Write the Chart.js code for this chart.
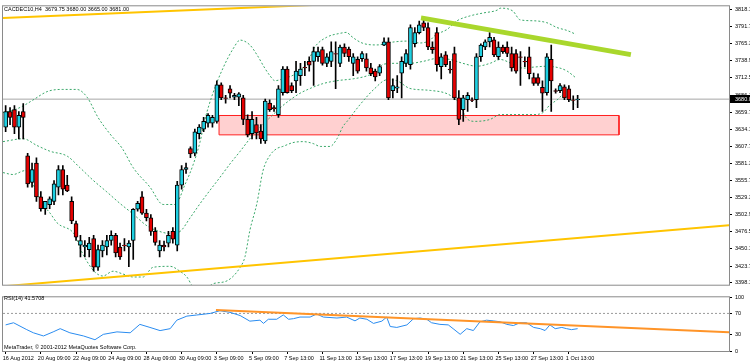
<!DOCTYPE html>
<html>
<head>
<meta charset="utf-8">
<script src="https://cdn.jsdelivr.net/npm/chart.js@4.4.1/dist/chart.umd.min.js"></script>
<style>
  html, body { margin: 0; padding: 0; background: #fff; }
  #wrap { position: relative; width: 750px; height: 364px; overflow: hidden; }
  #main { position: absolute; left: 0; top: 0; }
  #rsi { position: absolute; left: 0; top: 291px; }
</style>
</head>
<body>
<div id="wrap">
  <canvas id="main" width="750" height="291"></canvas>
  <canvas id="rsi" width="750" height="73"></canvas>
</div>
<script>
// H4 candles, one entry per bar (bar 0 = 16 Aug 2012)
const opens = [
  3637, 3661, 3664, 3637, 3661, 3593, 3552, 3582, 3530, 3512,
  3518, 3523, 3545, 3572, 3548, 3523, 3489, 3456, 3453, 3449,
  3466, 3422, 3447, 3453, 3463, 3471, 3453, 3456, 3453, 3463,
  3511, 3530, 3505, 3498, 3477, 3447, 3456, 3459, 3477, 3456,
  3548, 3572, 3604, 3597, 3627, 3634, 3643, 3643, 3646, 3702,
  3682, 3696, 3683, 3683, 3682, 3649, 3627, 3641, 3631, 3616,
  3674, 3667, 3656, 3690, 3726, 3701, 3708, 3716, 3729, 3738,
  3738, 3745, 3756, 3735, 3738, 3750, 3735, 3760, 3757, 3735,
  3741, 3742, 3742, 3728, 3723, 3720, 3763, 3768, 3693, 3697,
  3720, 3735, 3733, 3765, 3782, 3797, 3790, 3760, 3782, 3730,
  3748, 3726, 3750, 3682, 3664, 3679, 3679, 3679, 3745, 3760,
  3768, 3771, 3745, 3760, 3760, 3750, 3750, 3745, 3738, 3745,
  3713, 3713, 3698, 3690, 3741, 3693, 3693, 3699, 3696, 3679,
  3679
];
const highs = [
  3670, 3667, 3670, 3661, 3673, 3597, 3582, 3590, 3538, 3523,
  3530, 3555, 3578, 3578, 3563, 3530, 3493, 3471, 3463, 3468,
  3471, 3456, 3463, 3471, 3478, 3474, 3459, 3466, 3463, 3512,
  3523, 3538, 3511, 3503, 3483, 3463, 3462, 3477, 3483, 3554,
  3578, 3582, 3607, 3634, 3641, 3652, 3658, 3655, 3708, 3705,
  3686, 3701, 3689, 3690, 3686, 3656, 3661, 3652, 3641, 3680,
  3679, 3670, 3701, 3730, 3730, 3705, 3738, 3735, 3738, 3745,
  3760, 3760, 3760, 3750, 3768, 3768, 3763, 3765, 3760, 3750,
  3745, 3753, 3750, 3735, 3726, 3733, 3774, 3774, 3711, 3716,
  3745, 3756, 3794, 3790, 3800, 3805, 3797, 3768, 3790, 3750,
  3753, 3738, 3760, 3693, 3686, 3690, 3682, 3750, 3765, 3771,
  3782, 3775, 3768, 3763, 3768, 3760, 3756, 3753, 3745, 3760,
  3720, 3719, 3708, 3750, 3763, 3696, 3704, 3702, 3701, 3685,
  3686
];
const lows = [
  3630, 3641, 3627, 3619, 3619, 3545, 3545, 3523, 3508, 3503,
  3512, 3518, 3533, 3533, 3538, 3489, 3463, 3438, 3438, 3438,
  3416, 3417, 3438, 3441, 3456, 3438, 3434, 3447, 3423, 3434,
  3508, 3503, 3493, 3471, 3456, 3438, 3447, 3453, 3459, 3447,
  3542, 3566, 3590, 3593, 3619, 3630, 3637, 3637, 3643, 3679,
  3674, 3682, 3679, 3670, 3641, 3622, 3619, 3619, 3612, 3612,
  3661, 3661, 3652, 3686, 3689, 3690, 3690, 3701, 3716, 3723,
  3701, 3738, 3732, 3730, 3730, 3696, 3730, 3745, 3738, 3716,
  3720, 3738, 3723, 3716, 3708, 3716, 3762, 3679, 3682, 3690,
  3682, 3730, 3726, 3760, 3780, 3785, 3756, 3750, 3723, 3711,
  3730, 3720, 3679, 3641, 3646, 3661, 3676, 3667, 3738, 3756,
  3760, 3745, 3741, 3750, 3745, 3723, 3720, 3701, 3730, 3711,
  3701, 3701, 3661, 3686, 3661, 3689, 3690, 3679, 3676, 3664,
  3667
];
const closes = [
  3661, 3652, 3637, 3655, 3652, 3550, 3572, 3530, 3512, 3523,
  3527, 3550, 3572, 3542, 3539, 3493, 3468, 3463, 3456, 3459,
  3422, 3449, 3456, 3463, 3471, 3444, 3438, 3455, 3459, 3511,
  3520, 3505, 3498, 3477, 3460, 3456, 3453, 3471, 3465, 3548,
  3572, 3575, 3596, 3630, 3637, 3646, 3655, 3652, 3702, 3682,
  3681, 3689, 3686, 3688, 3649, 3625, 3649, 3628, 3619, 3677,
  3664, 3665, 3696, 3726, 3690, 3693, 3723, 3726, 3728, 3732,
  3753, 3753, 3735, 3745, 3753, 3749, 3760, 3750, 3745, 3745,
  3723, 3750, 3728, 3719, 3714, 3730, 3768, 3682, 3701, 3699,
  3738, 3750, 3790, 3782, 3794, 3790, 3760, 3756, 3733, 3745,
  3733, 3725, 3682, 3649, 3682, 3686, 3678, 3745, 3763, 3768,
  3775, 3748, 3760, 3753, 3750, 3728, 3723, 3744, 3737, 3719,
  3704, 3704, 3689, 3745, 3708, 3692, 3701, 3682, 3679, 3678,
  3680
];

// Bollinger bands: [bar, price]
const upperBand = [
  [-0.6, 3659.3], [2.1, 3663.8], [4.4, 3671.2], [6.2, 3678.6], [9.6, 3692.0], [13.0, 3694.9],
  [16.2, 3694.9], [18.5, 3683.1], [21.0, 3651.9], [23.7, 3626.7], [26.5, 3604.4], [29.0, 3574.7],
  [32.8, 3545.0], [35.8, 3518.3], [38.5, 3518.3], [40.8, 3549.5], [42.6, 3579.2], [44.2, 3614.8],
  [45.3, 3648.9], [47.1, 3689.0], [49.4, 3727.6], [51.7, 3757.3], [53.3, 3770.6], [55.5, 3763.2],
  [57.1, 3748.3], [58.9, 3727.6], [60.1, 3715.7], [61.2, 3708.3], [63.0, 3711.2], [66.2, 3720.2],
  [68.7, 3738.0], [70.3, 3760.2], [73.0, 3775.1], [76.0, 3781.0], [77.6, 3782.5], [78.3, 3778.0],
  [81.0, 3766.2], [84.4, 3763.2], [88.0, 3767.6], [91.2, 3769.1], [94.2, 3766.2], [96.5, 3770.6],
  [97.6, 3778.0], [100.3, 3786.9], [102.6, 3800.3], [105.5, 3807.7], [108.5, 3812.2], [111.7, 3816.6],
  [112.4, 3819.6], [115.3, 3815.1], [116.9, 3801.8], [119.9, 3800.3], [123.0, 3797.3], [125.3, 3789.9],
  [127.6, 3785.4], [129.6, 3779.5]
];
const middleBand = [
  [-0.6, 3614.8], [4.0, 3619.2], [7.1, 3608.9], [10.1, 3600.0], [14.0, 3592.5], [16.9, 3574.7],
  [19.9, 3555.4], [23.0, 3537.6], [26.0, 3519.8], [29.0, 3503.5], [32.1, 3485.7], [34.4, 3478.3],
  [37.4, 3473.8], [39.6, 3476.8], [41.9, 3497.6], [44.2, 3519.8], [46.5, 3540.6], [48.7, 3559.9],
  [51.0, 3580.7], [53.3, 3600.0], [55.5, 3619.2], [57.8, 3637.0], [60.1, 3651.9], [62.4, 3666.7],
  [64.6, 3678.6], [66.9, 3689.0], [69.2, 3696.4], [72.1, 3703.8], [75.3, 3708.3], [79.0, 3711.2],
  [82.1, 3715.7], [84.4, 3723.1], [85.8, 3733.5], [88.9, 3735.0], [91.9, 3735.0], [94.9, 3738.0],
  [98.0, 3742.4], [101.0, 3740.9], [103.9, 3735.0], [107.1, 3730.5], [110.1, 3735.0], [112.4, 3740.9],
  [115.3, 3733.5], [117.6, 3727.6], [119.9, 3729.1], [123.0, 3730.5], [126.0, 3727.6], [127.6, 3723.1],
  [129.6, 3712.7]
];
const lowerBand = [
  [-0.6, 3567.3], [1.7, 3564.3], [4.4, 3570.3], [6.2, 3549.5], [8.5, 3518.3], [10.1, 3505.0],
  [11.7, 3490.1], [15.8, 3470.8], [16.9, 3451.5], [18.5, 3430.8], [20.3, 3414.5], [22.1, 3408.5],
  [24.4, 3415.9], [26.7, 3411.5], [29.0, 3407.0], [31.2, 3407.0], [33.5, 3421.9], [37.4, 3423.4],
  [39.6, 3415.9], [41.2, 3407.0], [42.4, 3393.7], [44.6, 3384.8], [47.1, 3396.6], [50.3, 3401.1],
  [53.3, 3421.9], [54.4, 3438.2], [55.5, 3478.3], [57.1, 3519.8], [58.5, 3570.3], [60.1, 3594.0],
  [61.7, 3604.4], [63.0, 3607.4], [65.3, 3613.3], [67.6, 3614.8], [69.9, 3611.8], [71.5, 3607.4],
  [73.7, 3607.4], [75.3, 3619.2], [76.7, 3638.5], [77.6, 3645.9], [80.5, 3671.2], [83.9, 3696.4],
  [86.7, 3709.8], [88.9, 3708.3], [91.9, 3696.4], [96.5, 3693.4], [101.0, 3686.0], [103.3, 3671.2],
  [104.6, 3651.9], [106.7, 3645.9], [110.1, 3648.9], [112.4, 3656.3], [115.3, 3656.3], [119.9, 3656.3],
  [122.1, 3659.3], [123.7, 3671.2], [125.3, 3678.6], [126.7, 3686.0], [128.3, 3678.6], [129.6, 3671.2]
];

// drawn objects: [bar, price]
const topChannel = [[-0.6, 3804.7], [78.3, 3826.9]];
const bottomChannel = [[-0.6, 3392.7], [164.4, 3486.4]];
const resistance = [[94.4, 3804.7], [142.1, 3748.3]];
const zoneBars = [48.5, 139.4];
const zonePrices = [3625.2, 3654.9];
const bidPrice = 3680.0;

// RSI(14): [bar, value]
const rsiLine = [
  [0, 48.6], [1.8, 52.6], [4.8, 39.8], [6.3, 33.9], [8.6, 28.0], [10.8, 35.6], [12.4, 41.6],
  [14.6, 33.9], [17.7, 28.0], [20.3, 21.0], [22.2, 31.0], [25.3, 35.6], [28.3, 33.9], [30.5, 49.6],
  [32.8, 43.9], [35.1, 38.0], [37.4, 41.6], [38.9, 57.4], [41.2, 65.0], [43.4, 67.0], [46.5, 70.0],
  [48.7, 75.0], [51.0, 72.0], [53.3, 66.0], [55.5, 55.6], [57.8, 57.4], [58.6, 51.4], [59.7, 59.1],
  [61.6, 59.1], [63.1, 67.2], [64.3, 59.1], [65.4, 60.2], [66.9, 63.2], [69.2, 63.2], [70.7, 68.9],
  [72.2, 63.2], [75.3, 61.4], [77.5, 63.2], [79.4, 56.1], [80.5, 61.4], [82.1, 59.1], [83.6, 51.4],
  [85.5, 55.6], [86.6, 63.2], [87.4, 45.6], [88.9, 43.9], [91.2, 48.6], [92.7, 60.2], [94.2, 61.4],
  [95.7, 59.1], [96.8, 52.6], [98.7, 49.6], [100.6, 48.6], [101.7, 41.6], [103.3, 31.1], [104.8, 41.6],
  [106.3, 38.1], [107.8, 54.4], [109.3, 57.4], [110.8, 56.1], [112.4, 54.4], [113.9, 49.6], [115.4, 47.4],
  [116.9, 52.6], [118.4, 52.6], [120.0, 43.9], [121.5, 41.6], [122.6, 38.1], [123.7, 48.6], [124.9, 41.6],
  [126.4, 43.9], [127.5, 41.6], [128.6, 39.8], [130, 41.57]
];
const rsiTrend = [[47.8, 76.3], [164.4, 35.1]];
const rsiLevel = 70;

// axis labels
const priceTicks = [3398.10, 3423.70, 3450.10, 3476.50, 3502.90, 3529.30, 3555.70, 3581.30, 3607.70,
  3634.10, 3659.70, 3686.10, 3712.50, 3738.90, 3765.30, 3791.70, 3818.10];
const rsiTicks = [0, 30, 70, 100];
const dateTickBars = [0, 8, 16, 24, 32, 40, 48, 56, 64, 72, 80, 88, 96, 104, 112, 120, 128];
const dateLabels = ['16 Aug 2012', '20 Aug 09:00', '22 Aug 09:00', '24 Aug 09:00', '28 Aug 09:00',
  '30 Aug 09:00', '3 Sep 09:00', '5 Sep 09:00', '7 Sep 13:00', '11 Sep 13:00', '13 Sep 13:00',
  '17 Sep 13:00', '19 Sep 13:00', '21 Sep 13:00', '25 Sep 13:00', '27 Sep 13:00', '1 Oct 13:00'];
const titleText = 'CACDEC10,H4  3679.75 3680.00 3665.00 3681.00';
const rsiTitle = 'RSI(14) 41.5708';
const copyright = 'MetaTrader, \u00a9 2001-2012 MetaQuotes Software Corp.';

const FONT = { family: '"Liberation Sans", Arial, sans-serif', size: 5.5 };
const bull = '#1fd0e2', bear = '#e60000';
const xMin = -0.6, xMax = 164.4;

const pts = arr => arr.map(p => ({ x: p[0], y: p[1] }));

// frame + texts drawn on top of each panel
function panelDecor(texts, bid) {
  return {
    id: 'panelDecor',
    afterDraw(chart) {
      const { ctx, chartArea: a } = chart;
      ctx.save();
      ctx.strokeStyle = '#8a8a8a';
      ctx.lineWidth = 1;
      ctx.strokeRect(a.left - 0.5, a.top - 0.5, a.right - a.left + 1, a.bottom - a.top + 1);
      ctx.font = FONT.size + 'px ' + FONT.family;
      ctx.fillStyle = '#000';
      ctx.textBaseline = 'middle';
      texts.forEach(t => ctx.fillText(t[0], t[1], t[2]));
      if (bid !== undefined) {
        const y = Math.round(chart.scales.y.getPixelForValue(bid));
        ctx.fillStyle = '#000';
        ctx.fillRect(a.right + 1, y - 4, 30, 8);
        ctx.fillStyle = '#fff';
        ctx.fillText(bid.toFixed(2), a.right + 6, y);
      }
      ctx.restore();
    }
  };
}

const bodies = opens.map((o, i) => ({ x: i, y: [o, closes[i]] }));
const wicks = lows.map((l, i) => ({ x: i, y: [l, highs[i]] }));
const bodyColors = opens.map((o, i) => closes[i] >= o ? bull : bear);
const zoneShape = [
  { x: zoneBars[0], y: zonePrices[1] }, { x: zoneBars[1], y: zonePrices[1] },
  { x: zoneBars[1], y: zonePrices[0] }, { x: zoneBars[0], y: zonePrices[0] },
  { x: zoneBars[0], y: zonePrices[1] }
];

const lineBase = { type: 'line', pointRadius: 0, tension: 0, fill: false };
const bandStyle = Object.assign({}, lineBase, {
  borderColor: '#3aa86a', borderWidth: 1, borderDash: [2, 2], cubicInterpolationMode: 'monotone', order: 3
});

new Chart(document.getElementById('main'), {
  type: 'bar',
  data: {
    datasets: [
      Object.assign({}, lineBase, { data: pts(resistance), borderColor: '#a9d72c', borderWidth: 5, order: 0 }),
      Object.assign({}, lineBase, { data: pts(topChannel), borderColor: '#ffc400', borderWidth: 2, order: 0 }),
      Object.assign({}, lineBase, { data: pts(bottomChannel), borderColor: '#ffc400', borderWidth: 2, order: 0 }),
      { type: 'bar', data: bodies, backgroundColor: bodyColors, borderColor: '#000', borderWidth: 1,
        borderSkipped: false, barThickness: 4, grouped: false, order: 1 },
      { type: 'bar', data: wicks, backgroundColor: '#000', borderWidth: 0, barThickness: 1, grouped: false, order: 2 },
      Object.assign({}, bandStyle, { data: pts(upperBand) }),
      Object.assign({}, bandStyle, { data: pts(middleBand) }),
      Object.assign({}, bandStyle, { data: pts(lowerBand) }),
      Object.assign({}, lineBase, { data: [{ x: xMin, y: bidPrice }, { x: xMax, y: bidPrice }],
        borderColor: '#a6a6a6', borderWidth: 1, order: 4 }),
      Object.assign({}, lineBase, { data: zoneShape, borderColor: '#ff2020', borderWidth: 1,
        backgroundColor: 'rgba(255,170,170,0.55)', fill: 'shape', order: 5 })
    ]
  },
  options: {
    responsive: false,
    animation: false,
    events: [],
    layout: { padding: { left: 3, top: 3, right: 0, bottom: 1 } },
    plugins: { legend: { display: false }, tooltip: { enabled: false } },
    scales: {
      x: { type: 'linear', min: xMin, max: xMax, offset: false, display: false, grid: { offset: false } },
      y: {
        position: 'right', min: 3395.2, max: 3822.5, bounds: 'data',
        afterBuildTicks: axis => { axis.ticks = priceTicks.map(v => ({ value: v })); },
        afterFit: axis => { axis.width = 21; },
        ticks: { autoSkip: false, font: FONT, color: '#000', padding: 3, callback: v => v.toFixed(2) },
        grid: { drawOnChartArea: false, drawTicks: true, tickLength: 3, color: '#000' },
        border: { display: true, color: '#555' }
      }
    }
  },
  plugins: [panelDecor([[titleText, 4, 9]], bidPrice)]
});

new Chart(document.getElementById('rsi'), {
  type: 'line',
  data: {
    datasets: [
      Object.assign({}, lineBase, { data: pts(rsiTrend), borderColor: '#ff9428', borderWidth: 2, order: 0 }),
      Object.assign({}, lineBase, { data: pts(rsiLine), borderColor: '#2a8cf0', borderWidth: 1, order: 1 }),
      Object.assign({}, lineBase, { data: [{ x: xMin, y: rsiLevel }, { x: xMax, y: rsiLevel }],
        borderColor: '#9a9a9a', borderWidth: 1, borderDash: [2, 2], order: 2 })
    ]
  },
  options: {
    responsive: false,
    animation: false,
    events: [],
    layout: { padding: { left: 3, top: 4, right: 0, bottom: 0 } },
    plugins: { legend: { display: false }, tooltip: { enabled: false } },
    scales: {
      x: {
        type: 'linear', min: xMin, max: xMax, offset: false,
        afterBuildTicks: axis => { axis.ticks = dateTickBars.map(v => ({ value: v })); },
        afterFit: axis => { axis.height = 13; },
        ticks: { autoSkip: false, maxRotation: 0, align: 'start', labelOffset: -3, padding: 1, font: FONT, color: '#000',
          callback: v => dateLabels[dateTickBars.indexOf(v)] },
        grid: { drawOnChartArea: false, drawTicks: true, tickLength: 3, color: '#000' },
        border: { display: true, color: '#555' }
      },
      y: {
        position: 'right', min: 0, max: 100, bounds: 'data',
        afterBuildTicks: axis => { axis.ticks = rsiTicks.map(v => ({ value: v })); },
        afterFit: axis => { axis.width = 21; },
        ticks: { autoSkip: false, font: FONT, color: '#000', padding: 3 },
        grid: { drawOnChartArea: false, drawTicks: true, tickLength: 3, color: '#000' },
        border: { display: true, color: '#555' }
      }
    }
  },
  plugins: [panelDecor([[rsiTitle, 4, 7], [copyright, 4, 56]])]
});
</script>
</body>
</html>
